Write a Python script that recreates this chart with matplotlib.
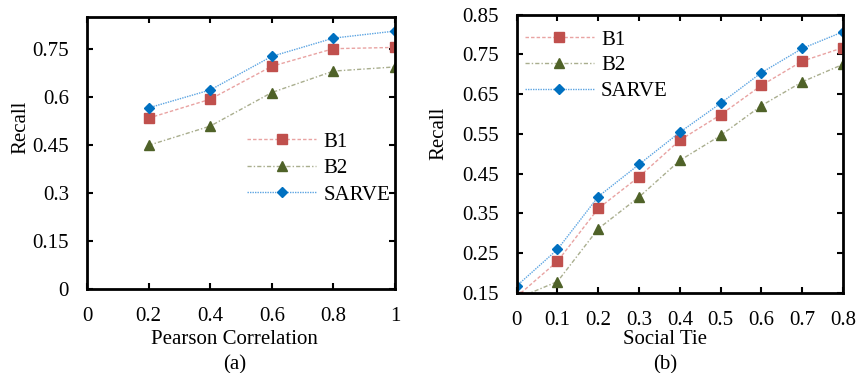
import matplotlib
matplotlib.use("Agg")
import matplotlib.pyplot as plt

plt.rcParams['font.family'] = ['Liberation Serif', 'DejaVu Serif']

# (a) Pearson Correlation
pc_x = [0.2, 0.4, 0.6, 0.8, 1.0]
pc_b1 = [0.534, 0.593, 0.696, 0.751, 0.755]
pc_b2 = [0.449, 0.509, 0.614, 0.681, 0.694]
pc_sarve = [0.566, 0.622, 0.727, 0.784, 0.806]
pc_xticks = [0, 0.2, 0.4, 0.6, 0.8, 1.0]
pc_xticklabels = ["0", "0.2", "0.4", "0.6", "0.8", "1"]
pc_yticks = [0, 0.15, 0.3, 0.45, 0.6, 0.75]
pc_yticklabels = ["0", "0.15", "0.3", "0.45", "0.6", "0.75"]

# (b) Social Tie
st_x = [0, 0.1, 0.2, 0.3, 0.4, 0.5, 0.6, 0.7, 0.8]
st_b1 = [0.14, 0.229, 0.362, 0.442, 0.534, 0.598, 0.672, 0.733, 0.767]
st_b2 = [0.135, 0.178, 0.311, 0.391, 0.483, 0.546, 0.621, 0.681, 0.725]
st_sarve = [0.167, 0.259, 0.392, 0.473, 0.554, 0.627, 0.704, 0.765, 0.807]
st_xticks = [0, 0.1, 0.2, 0.3, 0.4, 0.5, 0.6, 0.7, 0.8]
st_xticklabels = ["0", "0.1", "0.2", "0.3", "0.4", "0.5", "0.6", "0.7", "0.8"]
st_yticks = [0.15, 0.25, 0.35, 0.45, 0.55, 0.65, 0.75, 0.85]
st_yticklabels = ["0.15", "0.25", "0.35", "0.45", "0.55", "0.65", "0.75", "0.85"]

labels = ["B1", "B2", "SARVE"]

FS = 15

fig = plt.figure(figsize=(8.57, 3.73), dpi=100)
ax1 = fig.add_axes([0.1015, 0.2252, 0.3594, 0.7292])
ax2 = fig.add_axes([0.6029, 0.2153, 0.3808, 0.7453])

styles = [
    dict(color='#E9A3A2', linestyle=(0, (2.5, 1.5)), marker='s', markersize=7.5,
         markerfacecolor='#C0504D', markeredgecolor='#C0504D', linewidth=1.0),
    dict(color='#A9AE8E', linestyle=(0, (3, 1.5, 1, 1.5)), marker='^', markersize=7.5,
         markerfacecolor='#4F6228', markeredgecolor='#4F6228', linewidth=1.0),
    dict(color='#5DA5E2', linestyle=(0, (1, 0.8)), marker='D', markersize=5.0,
         markerfacecolor='#0070C0', markeredgecolor='#0070C0', linewidth=1.0),
]

for ax, x, series in [(ax1, pc_x, [pc_b1, pc_b2, pc_sarve]),
                      (ax2, st_x, [st_b1, st_b2, st_sarve])]:
    for y, lab, st in zip(series, labels, styles):
        ax.plot(x, y, label=lab, clip_on=True, **st)

ax1.set_xlim(0, 1.0)
ax1.set_ylim(0, 0.85)
ax1.set_xticks(pc_xticks)
ax1.set_xticklabels(pc_xticklabels)
ax1.set_yticks(pc_yticks)
ax1.set_yticklabels(pc_yticklabels)
ax1.set_xlabel("Pearson Correlation", fontsize=FS)
ax1.set_ylabel("Recall", fontsize=FS)

ax2.set_xlim(0, 0.8)
ax2.set_ylim(0.15, 0.85)
ax2.set_xticks(st_xticks)
ax2.set_xticklabels(st_xticklabels)
ax2.set_yticks(st_yticks)
ax2.set_yticklabels(st_yticklabels)
ax2.set_xlabel("Social Tie", fontsize=FS)
ax2.set_ylabel("Recall", fontsize=FS)

for ax in (ax1, ax2):
    for s in ax.spines.values():
        s.set_linewidth(2.0)
    ax.tick_params(axis='both', direction='in', length=4, width=1.5, top=True,
                   right=True, labelsize=FS)
    ax.tick_params(axis='x', pad=13)
    ax.tick_params(axis='y', pad=13)
    ax.xaxis.label.set_va('center')
    ax.yaxis.label.set_va('center')

ax1.xaxis.set_label_coords(0.48, -0.185)
ax1.yaxis.set_label_coords(-0.215, 0.596)
ax2.xaxis.set_label_coords(0.454, -0.168)
ax2.yaxis.set_label_coords(-0.238, 0.574)

ax1.legend(loc='upper left', bbox_to_anchor=(0.52, 0.577), frameon=False,
           fontsize=FS, handlelength=3.3, handletextpad=0.35, labelspacing=0.33,
           borderpad=0, borderaxespad=0)
ax2.legend(loc='upper left', bbox_to_anchor=(0.025, 0.945), frameon=False,
           fontsize=FS, handlelength=3.3, handletextpad=0.35, labelspacing=0.3,
           borderpad=0, borderaxespad=0)

fig.text(235 / 857, 1 - 365 / 373, "(a)", ha='center', va='center', fontsize=FS)
fig.text(665 / 857, 1 - 365 / 373, "(b)", ha='center', va='center', fontsize=FS)

fig.savefig("out.png", dpi=100)
